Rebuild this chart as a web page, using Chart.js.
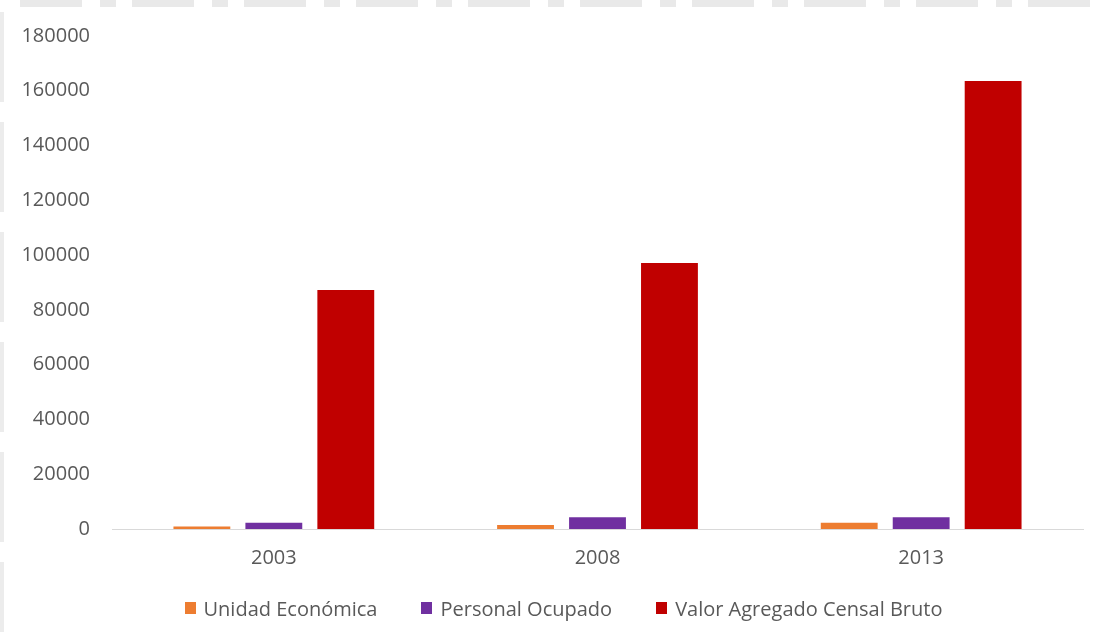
<!DOCTYPE html>
<html>
<head>
<meta charset="utf-8">
<script src="https://cdn.jsdelivr.net/npm/chart.js@4"></script>
<style>
  html, body { margin: 0; padding: 0; background: #fff; }
  #wrap { position: relative; width: 1105px; height: 639px; overflow: hidden; }
  /* restos grises del recorte original */
  #topband {
    position: absolute; left: 20px; top: 0; width: 1085px; height: 7px;
    background: repeating-linear-gradient(90deg, #e9e9e9 0 62px, #fff 62px 80px, #e9e9e9 80px 96px, #fff 96px 112px);
  }
  #leftband {
    position: absolute; left: 0; top: 12px; width: 4px; height: 620px;
    background: repeating-linear-gradient(180deg, #ececec 0 90px, #fff 90px 110px);
  }
  canvas { position: absolute; left: 0; top: 0; }
  #legend {
    position: absolute; left: 22px; right: 0; top: 595px; height: 26px;
    display: flex; justify-content: center; align-items: center;
    font-family: 'Open Sans', sans-serif; font-size: 20px; color: #595959;
  }
  #legend .item { display: flex; align-items: center; margin: 0 22px; white-space: nowrap; }
  #legend .box { width: 11px; height: 12px; margin-right: 8px; }
</style>
</head>
<body>
<div id="wrap">
  <div id="topband"></div>
  <div id="leftband"></div>
  <canvas id="chart" width="1105" height="639"></canvas>
  <div id="legend"></div>
</div>
<script>
// ── Datos ──────────────────────────────────────────────
const years     = ["2003", "2008", "2013"]
const unidad    = [900, 1500, 2300]
const personal  = [2300, 4300, 4300]
const valor     = [87300, 97100, 163600]
const yTicks    = [0, 20000, 40000, 60000, 80000, 100000, 120000, 140000, 160000, 180000]

const textGray = "#595959"
const font = { family: "'Open Sans', sans-serif", size: 20 }

Chart.defaults.color = textGray
Chart.defaults.font.family = font.family

const barOpts = { categoryPercentage: 0.667, barPercentage: 0.79 }

const chart = new Chart(document.getElementById("chart"), {
  type: "bar",
  data: {
    labels: years,
    datasets: [
      { label: "Unidad Económica", data: unidad, backgroundColor: "#ED7D31", ...barOpts },
      { label: "Personal Ocupado", data: personal, backgroundColor: "#7030A0", ...barOpts },
      { label: "Valor Agregado Censal Bruto", data: valor, backgroundColor: "#C00000", ...barOpts }
    ]
  },
  options: {
    responsive: false,
    animation: false,
    layout: { padding: { left: 22, right: 22, top: 36, bottom: 60 } },
    plugins: {
      legend: { display: false },
      tooltip: { enabled: false }
    },
    scales: {
      x: {
        grid: { display: false },
        border: { color: "#d9d9d9", width: 1 },
        ticks: { color: textGray, font, padding: 9 }
      },
      y: {
        min: 0,
        max: 180000,
        grid: { display: false, drawTicks: false },
        border: { display: false },
        afterBuildTicks: s => { s.ticks = yTicks.map(v => ({ value: v })) },
        afterFit: s => { s.width = 90 },
        ticks: { color: textGray, font, padding: 22, callback: v => String(v) }
      }
    }
  }
})

// Leyenda HTML con los colores de los datasets
const legendEl = document.getElementById("legend")
chart.data.datasets.forEach(ds => {
  const item = document.createElement("span")
  item.className = "item"
  const box = document.createElement("span")
  box.className = "box"
  box.style.background = ds.backgroundColor
  item.appendChild(box)
  item.appendChild(document.createTextNode(ds.label))
  legendEl.appendChild(item)
})
</script>
</body>
</html>
